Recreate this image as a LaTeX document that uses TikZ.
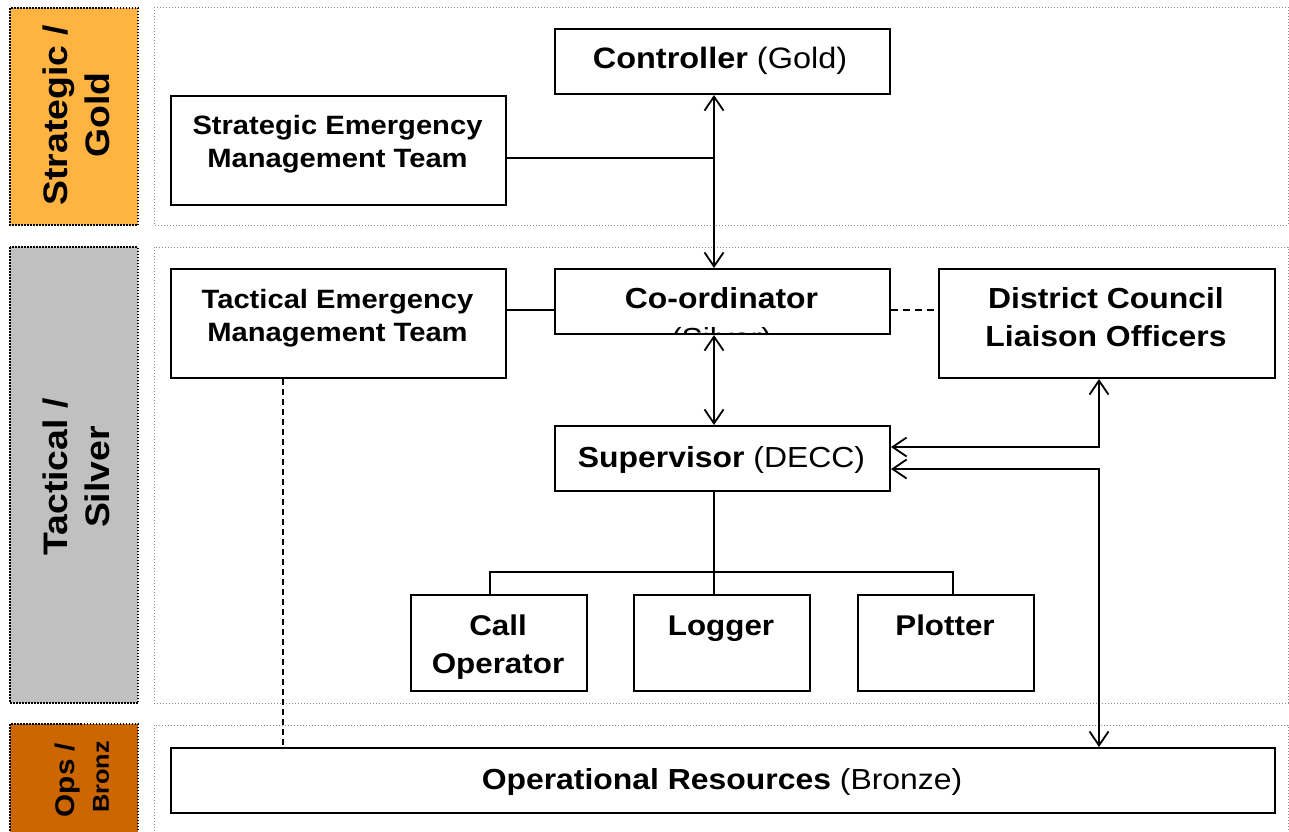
\documentclass[tikz,border=0pt]{standalone}
\usepackage{fontspec}
\setmainfont{Liberation Sans}[FakeStretch=1.1]
\usetikzlibrary{arrows.meta}
\definecolor{goldbar}{HTML}{FFB340}
\definecolor{silverbar}{HTML}{C0C0C0}
\definecolor{bronzebar}{HTML}{CC6600}
\begin{document}
\begin{tikzpicture}[x=1pt,y=-1pt,
  box/.style={draw=black, line width=2pt, fill=white, inner sep=0pt, anchor=north west},
  lbl/.style={inner sep=0pt, anchor=base, font=\fontsize{29}{35}\selectfont},
  mlbl/.style={inner sep=0pt, anchor=north, align=center},
  side/.style={inner sep=0pt, rotate=90, align=center, font=\bfseries\fontsize{34}{42}\selectfont},
  bar/.style={draw=black, line width=1.5pt, dash pattern=on 1.5pt off 1.5pt},
  panel/.style={draw=black!45, line width=1pt, dash pattern=on 1pt off 2pt},
  conn/.style={draw=black, line width=1.8pt},
  barb/.tip={Straight Barb[length=14pt,width=19pt]},
  arr/.style={barb-barb}
]
\useasboundingbox (0,0) rectangle (1289,831);
\clip (0,0) rectangle (1289,831);

% level bars and panels
\path[bar, fill=goldbar] (10,8) rectangle (138,225);
\path[bar, fill=silverbar] (10,247) rectangle (138,703);
\path[bar, fill=bronzebar] (10,724) rectangle (138,845);
\path[panel] (154,7) rectangle (1288,225);
\path[panel] (154,247) rectangle (1288,703);
\path[panel] (154,725) rectangle (1288,845);

\node[side] (lgold) at (76,115) {Strategic /\\Gold};
\node[side] (lsilver) at (76,477) {Tactical /\\Silver};
\node[side, font=\bfseries\fontsize{27}{32}\selectfont] (lops) at (68,780) {Ops /};
\node[side, font=\bfseries\fontsize{23}{28}\selectfont] (lbronz) at (101,777) {Bronz};

% boxes
\node[box, minimum width=335pt, minimum height=65pt] (ctrl) at (554,28) {};
\node[box, minimum width=335pt, minimum height=109pt] (semt) at (170,95) {};
\node[box, minimum width=335pt, minimum height=109pt] (temt) at (170,268) {};
\node[box, minimum width=335pt, minimum height=65pt] (coord) at (554,268) {};
\node[box, minimum width=336pt, minimum height=109pt] (dclo) at (938,268) {};
\node[box, minimum width=335pt, minimum height=65pt] (super) at (554,425) {};
\node[box, minimum width=176pt, minimum height=96pt] (callop) at (410,594) {};
\node[box, minimum width=176pt, minimum height=96pt] (logger) at (633,594) {};
\node[box, minimum width=176pt, minimum height=96pt] (plotter) at (857,594) {};
\node[box, minimum width=1104pt, minimum height=65pt] (ores) at (170,747) {};

% texts
\node[lbl, font=\fontsize{29.5}{35}\selectfont] (ctrl-t) at (720,68) {\textbf{Controller} (Gold)};
\node[mlbl, font=\bfseries\fontsize{26.5}{33}\selectfont] (semt-t) at (337.5,114.7) {Strategic Emergency\\Management Team};
\node[mlbl, font=\bfseries\fontsize{26.5}{33}\selectfont] (temt-t) at (337.5,288.7) {Tactical Emergency\\Management Team};
\node[lbl, font=\bfseries\fontsize{29}{35}\selectfont] (coord-t) at (721.5,308) {Co-ordinator};
\begin{scope}
  \clip ([yshift=1pt]coord.south west) rectangle (coord.north east);
  \node[lbl] (coord-s) at (721.5,348) {(Silver)};
\end{scope}
\node[mlbl, font=\bfseries\fontsize{29}{38}\selectfont] (dclo-t) at (1106,287.3) {District Council\\Liaison Officers};
\node[lbl] (super-t) at (721.5,467.5) {\textbf{Supervisor} (DECC)};
\node[mlbl, font=\bfseries\fontsize{28.5}{38}\selectfont] (callop-t) at (498,614.2) {Call\\Operator};
\node[lbl, font=\bfseries\fontsize{28.5}{35}\selectfont] (logger-t) at (721,635) {Logger};
\node[lbl, font=\bfseries\fontsize{28.5}{35}\selectfont] (plotter-t) at (945,635) {Plotter};
\node[lbl] (ores-t) at (722,789.5) {\textbf{Operational Resources} (Bronze)};

% helper coordinates
\coordinate (spine) at (714,0);
\coordinate (rx) at (1099,0);
\coordinate (semty) at (0,158);
\coordinate (cy) at (0,310);
\coordinate (ya) at (0,447);
\coordinate (yb) at (0,469);
\coordinate (bus) at (0,572);
\coordinate (lx) at (490,0);
\coordinate (px) at (953,0);
\coordinate (dx) at (283,0);

% connectors
\draw[conn, arr] (ctrl.south -| spine) -- (coord.north -| spine);
\draw[conn] (semt.east |- semty) -- (semty -| spine);
\draw[conn] (temt.east |- cy) -- (coord.west |- cy);
\draw[conn, dash pattern=on 7pt off 5pt] (coord.east |- cy) -- (dclo.west |- cy);
\draw[conn, arr] (coord.south -| spine) -- (super.north -| spine);
\draw[conn, arr] (dclo.south -| rx) -- (rx |- ya) -- (super.east |- ya);
\draw[conn, arr] (super.east |- yb) -- (rx |- yb) -- (ores.north -| rx);
\draw[conn] (super.south -| spine) -- (logger.north -| spine);
\draw[conn] (callop.north -| lx) -- (lx |- bus) -- (px |- bus) -- (plotter.north -| px);
\draw[conn, dash pattern=on 6pt off 4pt] (temt.south -| dx) -- (ores.north -| dx);
\end{tikzpicture}
\end{document}
